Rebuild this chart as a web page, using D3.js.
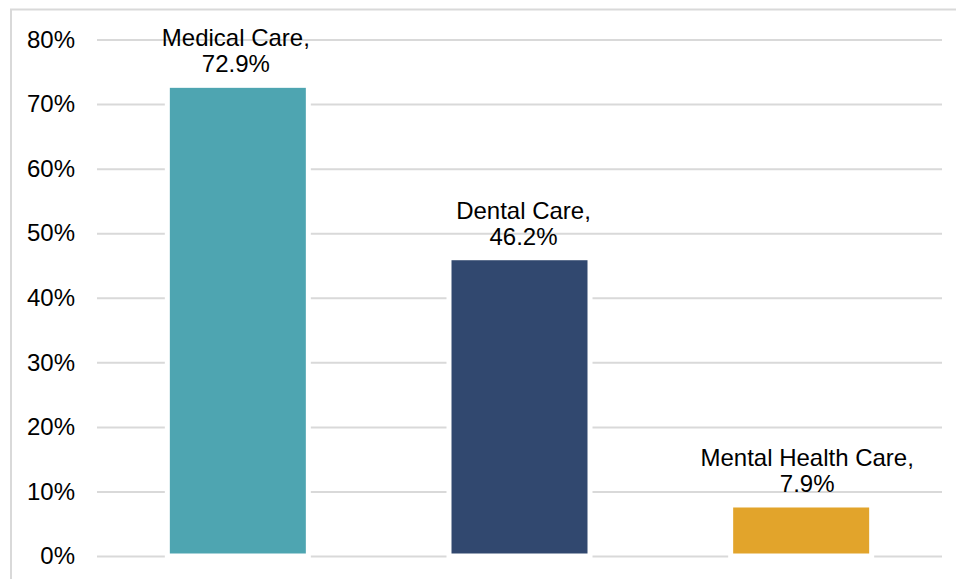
<!DOCTYPE html>
<html><head><meta charset="utf-8">
<script src="https://cdn.jsdelivr.net/npm/d3@7"></script>
<style>body{margin:0;background:#fff}svg{display:block}</style>
</head><body>
<svg id="c" width="956" height="579"></svg>
<script>
const categories = ["Medical Care", "Dental Care", "Mental Health Care"];
const values = [72.9, 46.2, 7.9];
const colors = ["#4EA5B1", "#31486F", "#E2A42B"];
const tickValues = [0, 10, 20, 30, 40, 50, 60, 70, 80];

(function () {
const svg = d3.select("#c");
const font = "Liberation Sans, Arial, sans-serif";
const pLeft = 97, pRight = 942, pTop = 39.5, pBottom = 556;
const labelNudge = [-2, 4, 6];

svg.append("rect").attr("x", 11).attr("y", 9.5).attr("width", 960).attr("height", 600)
  .attr("fill", "none").attr("stroke", "#d9d9d9").attr("stroke-width", 2);

const x = d3.scaleBand().domain(categories).range([pLeft, pRight]).paddingInner(0.5).paddingOuter(0.25);
const y = d3.scaleLinear().domain([0, 80]).range([pBottom, pTop]);

const yAxis = svg.append("g").attr("transform", `translate(${pLeft},0)`)
  .call(d3.axisLeft(y).tickValues(tickValues).tickFormat(d => d + "%").tickSize(-(pRight - pLeft)).tickPadding(22));
yAxis.select(".domain").remove();
yAxis.selectAll(".tick line").attr("stroke", "#d9d9d9").attr("stroke-width", 2);
yAxis.selectAll(".tick text").attr("font-family", font).attr("font-size", 24).attr("fill", "#000");

const bw = 141;
svg.selectAll("rect.bar").data(categories).enter().append("rect").attr("class", "bar")
  .attr("x", d => x(d) + x.bandwidth() / 2 - bw / 2)
  .attr("width", bw)
  .attr("y", (d, i) => y(values[i]))
  .attr("height", (d, i) => y(0) - y(values[i]))
  .attr("fill", (d, i) => colors[i])
  .attr("stroke", "#fff").attr("stroke-width", 5);

const cx = (d, i) => x(d) + x.bandwidth() / 2 + labelNudge[i];
const lbl = svg.selectAll("text.lbl").data(categories).enter().append("text").attr("class", "lbl")
  .attr("font-family", font).attr("font-size", 24).attr("fill", "#000").attr("text-anchor", "middle");
lbl.append("tspan").attr("x", cx).attr("y", (d, i) => y(values[i]) - 39)
  .text(d => d + ",");
lbl.append("tspan").attr("x", cx).attr("y", (d, i) => y(values[i]) - 13)
  .text((d, i) => values[i].toFixed(1) + "%");
})();
</script>
</body></html>
